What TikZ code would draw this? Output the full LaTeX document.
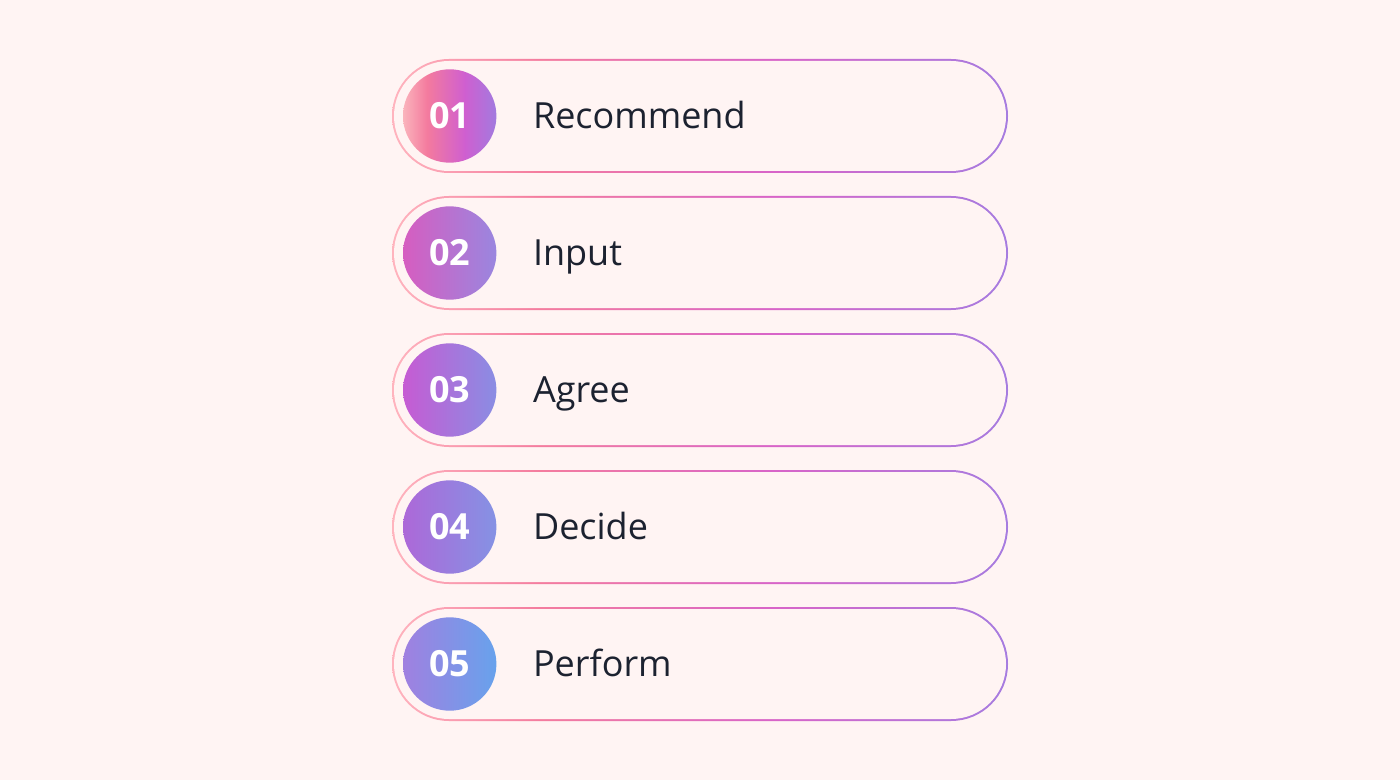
\documentclass[tikz,border=0pt]{standalone}
\usepackage{fontspec}
\setmainfont{Open Sans}
\usepackage{tikz}
\usetikzlibrary{positioning, shapes.misc}
\definecolor{bgpink}{HTML}{FFF4F3}
\definecolor{inkdark}{HTML}{1C2230}
\definecolor{rimA}{HTML}{FFB4BE}
\definecolor{rimB}{HTML}{F47C9E}
\definecolor{rimC}{HTML}{D864C8}
\definecolor{rimD}{HTML}{A67CE0}
\definecolor{oneA}{HTML}{FAB4BC}
\definecolor{oneB}{HTML}{F47A9E}
\definecolor{oneC}{HTML}{CF5FD0}
\definecolor{oneD}{HTML}{A27ADF}
\definecolor{twoL}{HTML}{D65DC0}
\definecolor{twoR}{HTML}{9A86DF}
\definecolor{threeL}{HTML}{C65BD3}
\definecolor{threeR}{HTML}{8A8DE3}
\definecolor{fourL}{HTML}{AD68D8}
\definecolor{fourR}{HTML}{8592E4}
\definecolor{fiveL}{HTML}{A080E0}
\definecolor{fiveR}{HTML}{68A2EC}
\pgfdeclarehorizontalshading{rimshade}{100bp}{color(0bp)=(rimA); color(25bp)=(rimA); color(37bp)=(rimB); color(56bp)=(rimC); color(75bp)=(rimD); color(100bp)=(rimD)}
\pgfdeclarehorizontalshading{badgeone}{100bp}{color(0bp)=(oneA); color(25bp)=(oneA); color(38bp)=(oneB); color(58bp)=(oneC); color(75bp)=(oneD); color(100bp)=(oneD)}

\begin{document}
\begin{tikzpicture}[x=0.5pt,y=-0.5pt,
    pillrim/.style={rounded rectangle, minimum width=308pt, minimum height=57pt, inner sep=0pt, shade, shading=rimshade},
    pillin/.style={rounded rectangle, minimum width=306pt, minimum height=55pt, inner sep=0pt, fill=bgpink},
    badge/.style={circle, minimum size=46.7pt, inner sep=0pt, text=white, font=\fontsize{18pt}{20pt}\selectfont\bfseries},
    label/.style={inner sep=0pt, text height=12.85pt, text depth=0pt, text=inkdark, font=\fontsize{18pt}{20pt}\selectfont}]
        \fill[bgpink] (0,0) rectangle (1400,780);

        \node[pillrim]   (p1) at (700,116)                {};
        \node[pillin]    (q1) at (p1)                     {};
        \node[pillrim]   (p2) [below=11.1pt of p1]        {};
        \node[pillin]    (q2) at (p2)                     {};
        \node[pillrim]   (p3) [below=11.1pt of p2]        {};
        \node[pillin]    (q3) at (p3)                     {};
        \node[pillrim]   (p4) [below=11.1pt of p3]        {};
        \node[pillin]    (q4) at (p4)                     {};
        \node[pillrim]   (p5) [below=11.1pt of p4]        {};
        \node[pillin]    (q5) at (p5)                     {};

        \node[badge, shade, shading=badgeone]        (b1) [right=5.5pt of p1.west] {01};
        \node[badge, left color=twoL, right color=twoR]     (b2) [right=5.5pt of p2.west] {02};
        \node[badge, left color=threeL, right color=threeR] (b3) [right=5.5pt of p3.west] {03};
        \node[badge, left color=fourL, right color=fourR]   (b4) [right=5.5pt of p4.west] {04};
        \node[badge, left color=fiveL, right color=fiveR]   (b5) [right=5.5pt of p5.west] {05};

        \node[label]     (t1) [right=70.5pt of p1.west]   {Recommend};
        \node[label]     (t2) [right=70.5pt of p2.west]   {Input};
        \node[label]     (t3) [right=70.5pt of p3.west]   {Agree};
        \node[label]     (t4) [right=70.5pt of p4.west]   {Decide};
        \node[label]     (t5) [right=70.5pt of p5.west]   {Perform};
    \end{tikzpicture}
\end{document}
